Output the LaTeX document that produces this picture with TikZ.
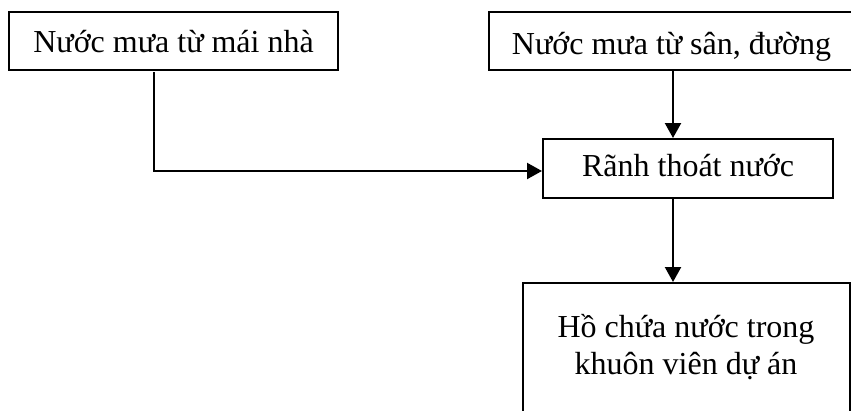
\documentclass[tikz,border=0pt]{standalone}
\usepackage{fontspec}
\setmainfont{Liberation Serif}
\usetikzlibrary{arrows.meta,calc}
\begin{document}
\begin{tikzpicture}[x=1pt,y=-1pt,
  box/.style={draw, line width=2.1pt, inner sep=0pt, anchor=north west, font=\fontsize{32}{37}\selectfont, text depth=2pt},
  txt/.style={inner sep=0pt, align=center, font=\fontsize{32}{37}\selectfont},
  conn/.style={line width=2.2pt},
  arr/.style={conn, -{Triangle[width=16pt,length=15pt]}}]
\useasboundingbox (0,0) rectangle (851,410);
\clip (0,0) rectangle (851,410);
\node[box, minimum width=329pt, minimum height=58pt, text height=25.4pt] (mai) at (8,11) {Nước mưa từ mái nhà};
\node[box, minimum width=365pt, minimum height=58pt, text height=28pt] (san) at (488,11) {Nước mưa từ sân, đường};
\node[box, minimum width=290pt, minimum height=59pt, text height=18.4pt] (rach) at (542,138) {Rãnh thoát nước};
\node[box, minimum width=327pt, minimum height=200pt] (ho) at (522,282) {};
\node[txt, anchor=north] (hotxt) at (686,314) {Hồ chứa nước trong\\khuôn viên dự án};
\coordinate (colx) at (673,0);
\coordinate (c1) at (154,72);
\coordinate (elb) at (154,171);
\draw[arr] (c1) -- (elb) -- (elb -| rach.west);
\draw[arr] (san.south -| colx) -- (rach.north -| colx);
\draw[arr] (rach.south -| colx) -- (ho.north -| colx);
\end{tikzpicture}
\end{document}
